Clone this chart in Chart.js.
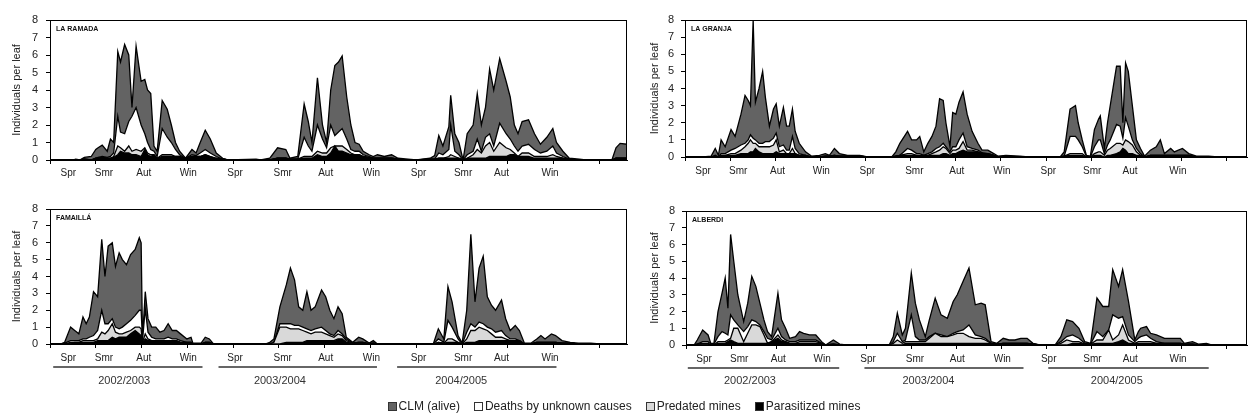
<!DOCTYPE html>
<html>
<head>
<meta charset="utf-8">
<script src="https://cdn.jsdelivr.net/npm/chart.js@4.4.1/dist/chart.umd.min.js"></script>
<style>
  html, body { margin: 0; padding: 0; background: #fff; }
  #wrap { position: relative; width: 1248px; height: 420px; overflow: hidden; font-family: "Liberation Sans", Arial, sans-serif; }
  #wrap canvas { position: absolute; }
  #legend { position: absolute; left: 0; top: 399px; width: 1248px; display: flex; justify-content: center; gap: 14px; font-size: 12px; color: #222; white-space: nowrap; }
  .item { display: flex; align-items: center; }
  .box { display: inline-block; width: 7px; height: 7px; border: 1px solid #333; margin-right: 2px; }
</style>
</head>
<body>
<div id="wrap">
  <canvas id="cRamada"   width="640" height="190" style="left:0;top:0"></canvas>
  <canvas id="cGranja"   width="608" height="190" style="left:640px;top:0"></canvas>
  <canvas id="cFamailla" width="640" height="230" style="left:0;top:190px"></canvas>
  <canvas id="cAlberdi"  width="608" height="230" style="left:640px;top:190px"></canvas>
  <div id="legend">
    <span class="item"><span class="box" style="background:#636363"></span>CLM (alive)</span>
    <span class="item"><span class="box" style="background:#fff"></span>Deaths by unknown causes</span>
    <span class="item"><span class="box" style="background:#d9d9d9"></span>Predated mines</span>
    <span class="item"><span class="box" style="background:#000"></span>Parasitized mines</span>
  </div>
</div>
<script>
// ---- axis labels (x in season units, tick every season) ----
const seasonLabels = ['Spr', 'Smr', 'Aut', 'Win', 'Spr', 'Smr', 'Aut', 'Win', 'Spr', 'Smr', 'Aut', 'Win'];
const seasonPos = [0.4, 1.18, 2.05, 3.02, 4.04, 5.08, 6.02, 7.02, 8.05, 9.02, 9.86, 10.92];
const yearLabels = ['2002/2003', '2003/2004', '2004/2005'];
const yearSpansLeft = [[0.07, 3.33], [3.68, 7.14], [7.58, 11.06]];
const yearTextLeft = [1.62, 5.02, 8.98];
const yearSpansRight = [[0.04, 3.4], [3.96, 7.49], [8.04, 11.6]];
const yearTextRight = [1.42, 5.38, 9.56];
const seriesNames = ['Parasitized mines', 'Predated mines', 'Deaths by unknown causes', 'CLM (alive)'];

// ---- LA RAMADA ----
const ramadaX = [0, 0.5, 0.56, 0.65, 0.75, 0.9, 1.0, 1.05, 1.14, 1.25,
  1.32, 1.39, 1.48, 1.54, 1.63, 1.72, 1.79, 1.88, 1.99, 2.07,
  2.13, 2.2, 2.27, 2.34, 2.45, 2.56, 2.65, 2.74, 2.83, 2.96,
  3.1, 3.19, 3.28, 3.39, 3.5, 3.63, 3.77, 3.9, 4.5, 4.6,
  4.8, 4.97, 5.15, 5.24, 5.41, 5.55, 5.64, 5.72, 5.84, 5.95,
  6.04, 6.13, 6.22, 6.3, 6.38, 6.48, 6.57, 6.66, 6.75, 6.84,
  6.97, 7.06, 7.15, 7.3, 7.46, 7.6, 7.82, 8.0, 8.3, 8.4,
  8.49, 8.58, 8.71, 8.75, 8.84, 8.93, 9.02, 9.11, 9.24, 9.33,
  9.42, 9.51, 9.6, 9.69, 9.82, 9.96, 10.05, 10.14, 10.22, 10.31,
  10.45, 10.58, 10.71, 10.85, 10.98, 11.06, 11.2, 11.34, 11.56, 11.7,
  12.27, 12.36, 12.45, 12.6];
const ramadaAlive = [0, 0, 0.05, 0, 0.1, 0.2, 0.5, 0.55, 0.65, 0.35,
  1.0, 0.6, 3.7, 4.0, 5.1, 3.8, 0.5, 3.5, 2.5, 3.1,
  3.0, 3.2, 0.3, 0.3, 1.6, 1.6, 1.0, 0.4, 0.2, 0,
  0.3, 0.15, 0.6, 1.1, 0.8, 0.2, 0.05, 0, 0.05, 0,
  0.1, 0.6, 0.5, 0.05, 0.15, 1.9, 1.4, 0.5, 2.7, 0.8,
  0.3, 2.0, 4.0, 4.0, 4.15, 2.4, 1.4, 0.5, 0.4, 0.2,
  0.1, 0.1, 0.2, 0.1, 0.2, 0.05, 0.05, 0, 0.05, 0.2,
  1.0, 0.5, 1.3, 1.7, 1.0, 0.7, 0, 1.2, 1.5, 2.6,
  1.5, 1.7, 3.7, 3.2, 3.7, 3.0, 2.4, 1.2, 1.0, 1.4,
  1.4, 0.9, 0.5, 0.8, 1.0, 0.6, 0.3, 0.05, 0.05, 0,
  0, 0.6, 0.85, 0.8];
const ramadaUnknown = [0, 0, 0, 0, 0, 0, 0, 0.05, 0.05, 0.05,
  0.1, 0.2, 1.7, 0.9, 1.0, 1.4, 2.0, 2.4, 1.5, 0.8,
  0.6, 0.3, 0.2, 0.1, 1.5, 1.0, 0.7, 0.4, 0.1, 0,
  0.1, 0.05, 0.2, 0.3, 0.2, 0.1, 0, 0, 0, 0,
  0, 0, 0, 0, 0, 1.1, 0.6, 0.3, 1.5, 0.8,
  0.3, 1.3, 0.6, 0.8, 1.0, 0.6, 0.2, 0.2, 0.2, 0.1,
  0.05, 0, 0, 0, 0, 0, 0, 0, 0, 0,
  0.3, 0.2, 0.4, 1.7, 0.3, 0.2, 0, 0.2, 0.2, 0.6,
  0.1, 0.5, 0.5, 0.3, 1.1, 0.8, 0.6, 0.4, 0.3, 0.4,
  0.5, 0.4, 0.2, 0.3, 0.5, 0.2, 0.1, 0, 0, 0,
  0, 0, 0, 0];
const ramadaPredated = [0, 0, 0, 0, 0, 0, 0, 0, 0, 0,
  0, 0.05, 0.5, 0.2, 0.1, 0.4, 0.2, 0.3, 0.3, 0.1,
  0.1, 0.1, 0, 0, 0.1, 0.1, 0.1, 0, 0, 0,
  0, 0, 0, 0, 0, 0, 0, 0, 0, 0,
  0, 0, 0, 0, 0, 0.1, 0.1, 0.1, 0.2, 0.2,
  0.2, 0.3, 0, 0.3, 0.3, 0.2, 0.1, 0, 0, 0,
  0, 0, 0, 0, 0, 0, 0, 0, 0, 0,
  0, 0, 0.1, 0.2, 0.1, 0, 0, 0, 0.2, 0.5,
  0.3, 0.7, 0.8, 0.3, 0.8, 0.5, 0.3, 0.1, 0, 0.2,
  0.2, 0.1, 0.1, 0.1, 0.2, 0.1, 0, 0, 0, 0,
  0, 0, 0, 0];
const ramadaParasit = [0, 0, 0, 0, 0.05, 0, 0.1, 0.1, 0.15, 0.1,
  0.1, 0.15, 0.3, 0.5, 0.4, 0.4, 0.3, 0.3, 0.2, 0.6,
  0.3, 0.2, 0.3, 0.1, 0.2, 0.2, 0.2, 0.2, 0.2, 0.1,
  0.2, 0.2, 0.2, 0.3, 0.2, 0.1, 0.05, 0, 0, 0,
  0, 0.1, 0.1, 0.05, 0.05, 0.1, 0.1, 0.1, 0.3, 0.2,
  0.2, 0.4, 0.8, 0.5, 0.5, 0.4, 0.3, 0.3, 0.3, 0.2,
  0.15, 0.1, 0.1, 0.1, 0.1, 0.05, 0, 0, 0.05, 0.05,
  0.1, 0.1, 0.1, 0.1, 0.1, 0.1, 0, 0.1, 0.1, 0.1,
  0.1, 0.1, 0.2, 0.2, 0.2, 0.2, 0.3, 0.3, 0.2, 0.2,
  0.2, 0.1, 0.1, 0.1, 0.1, 0.1, 0.1, 0.05, 0, 0,
  0, 0.1, 0.1, 0.1];

// ---- LA GRANJA ----
const granjaX = [0, 0.4, 0.58, 0.67, 0.74, 0.8, 0.89, 1.02, 1.11, 1.24,
  1.33, 1.4, 1.45, 1.51, 1.56, 1.64, 1.72, 1.78, 1.87, 1.96,
  2.02, 2.09, 2.18, 2.25, 2.31, 2.38, 2.44, 2.53, 2.67, 2.8,
  2.98, 3.11, 3.2, 3.31, 3.42, 3.6, 3.87, 4.04, 4.58, 4.67,
  4.76, 4.93, 5.02, 5.13, 5.2, 5.29, 5.38, 5.47, 5.56, 5.64,
  5.72, 5.78, 5.87, 5.93, 6.0, 6.07, 6.16, 6.25, 6.36, 6.49,
  6.58, 6.71, 6.84, 6.93, 7.11, 7.42, 7.6, 8.31, 8.4, 8.53,
  8.65, 8.71, 8.8, 8.89, 8.98, 9.07, 9.16, 9.2, 9.29, 9.36,
  9.42, 9.56, 9.64, 9.7, 9.76, 9.82, 9.91, 10.0, 10.09, 10.18,
  10.31, 10.44, 10.53, 10.62, 10.76, 10.84, 10.93, 11.02, 11.16, 11.33,
  11.6, 11.8, 12.45];
const granjaAlive = [0, 0, 0.05, 0.4, 0.1, 0.8, 0.4, 1.2, 0.7, 1.8,
  2.8, 2.3, 1.7, 6.9, 2.2, 3.2, 4.2, 2.6, 0.9, 1.7,
  1.7, 1.2, 2.2, 1.4, 1.4, 1.6, 1.0, 0.6, 0.2, 0.05,
  0.1, 0.15, 0.05, 0.4, 0.15, 0.05, 0.05, 0, 0, 0.25,
  0.7, 1.0, 0.6, 0.8, 1.0, 0.2, 0.6, 0.9, 1.3, 2.8,
  2.5, 1.4, 0.3, 2.0, 1.9, 2.2, 2.4, 1.9, 1.0, 0.4,
  0.15, 0.2, 0.1, 0.05, 0.1, 0.05, 0, 0, 0.25, 1.6,
  1.8, 1.0, 0.4, 0.05, 0.05, 1.0, 1.2, 1.4, 0.3, 1.3,
  2.0, 3.4, 3.5, 0.9, 3.2, 3.2, 2.0, 0.5, 0.3, 0.05,
  0.3, 0.5, 0.9, 0.1, 0.4, 0.2, 0.3, 0.4, 0.1, 0.05,
  0.05, 0, 0];
const granjaUnknown = [0, 0, 0, 0.05, 0, 0.1, 0.1, 0.2, 0.3, 0.3,
  0.2, 0.2, 0.3, 0.3, 0.2, 0.2, 0.2, 0.3, 0.3, 0.4,
  0.4, 0.3, 0.3, 0.2, 0.2, 0.7, 0.3, 0.1, 0, 0,
  0, 0, 0, 0, 0, 0, 0, 0, 0, 0,
  0, 0.3, 0.2, 0.1, 0.1, 0, 0.1, 0.1, 0.2, 0.2,
  0.2, 0.1, 0.1, 0.2, 0.2, 0.5, 0.5, 0.2, 0.1, 0.1,
  0.05, 0, 0, 0, 0, 0, 0, 0, 0, 1.0,
  1.0, 0.8, 0.4, 0.05, 0, 0.4, 0.7, 0.7, 0.1, 0.3,
  0.5, 1.1, 1.0, 0.4, 1.3, 0.9, 0.3, 0.2, 0.1, 0,
  0, 0, 0, 0, 0, 0, 0, 0, 0, 0,
  0, 0, 0];
const granjaPredated = [0, 0, 0, 0, 0, 0, 0, 0.1, 0.1, 0.2,
  0.4, 0.6, 0.7, 0.5, 0.3, 0.3, 0.4, 0.4, 0.4, 0.5,
  0.7, 0.1, 0.2, 0, 0, 0.3, 0, 0, 0, 0,
  0, 0, 0, 0, 0, 0, 0, 0, 0, 0,
  0, 0.1, 0.1, 0, 0, 0, 0, 0.1, 0.2, 0.3,
  0.4, 0.3, 0.1, 0.2, 0.2, 0.2, 0.5, 0.1, 0.1, 0,
  0, 0, 0, 0, 0, 0, 0, 0, 0, 0.1,
  0.1, 0.1, 0.1, 0, 0, 0.1, 0.2, 0.2, 0.1, 0.3,
  0.4, 0.6, 0.5, 0.2, 0.6, 0.7, 0.5, 0.2, 0, 0,
  0, 0, 0, 0, 0, 0, 0, 0, 0, 0,
  0, 0, 0];
const granjaParasit = [0, 0, 0, 0.05, 0, 0.1, 0.1, 0.1, 0.1, 0.2,
  0.2, 0.2, 0.3, 0.3, 0.5, 0.3, 0.2, 0.2, 0.2, 0.2,
  0.3, 0.2, 0.2, 0.2, 0.2, 0.2, 0.2, 0.1, 0.1, 0,
  0, 0.05, 0.05, 0.1, 0.05, 0.05, 0.05, 0, 0, 0.05,
  0.1, 0.1, 0.1, 0.1, 0.1, 0.1, 0.1, 0.1, 0.1, 0.1,
  0.2, 0.2, 0.1, 0.2, 0.2, 0.3, 0.4, 0.3, 0.3, 0.3,
  0.2, 0.2, 0.1, 0, 0, 0, 0, 0, 0.05, 0.1,
  0.1, 0.1, 0.1, 0, 0, 0.1, 0.1, 0.1, 0, 0.1,
  0.1, 0.2, 0.3, 0.5, 0.4, 0.2, 0.2, 0.1, 0.1, 0,
  0.1, 0.1, 0.1, 0.1, 0.1, 0.1, 0.1, 0.1, 0.1, 0,
  0, 0, 0];

// ---- FAMAILLÁ ----
const famaillaX = [0, 0.23, 0.32, 0.45, 0.54, 0.63, 0.72, 0.79, 0.86, 0.95,
  1.04, 1.13, 1.2, 1.27, 1.36, 1.43, 1.51, 1.58, 1.67, 1.76,
  1.86, 1.95, 1.99, 2.02, 2.08, 2.14, 2.22, 2.31, 2.4, 2.49,
  2.58, 2.67, 2.76, 2.85, 2.99, 3.08, 3.12, 3.3, 3.39, 3.48,
  3.57, 4.7, 4.8, 4.89, 5.02, 5.16, 5.25, 5.34, 5.43, 5.52,
  5.61, 5.7, 5.79, 5.93, 6.02, 6.11, 6.2, 6.29, 6.38, 6.47,
  6.61, 6.74, 6.83, 6.97, 7.06, 7.15, 8.37, 8.48, 8.6, 8.69,
  8.78, 8.91, 9.0, 9.1, 9.19, 9.28, 9.37, 9.46, 9.55, 9.64,
  9.73, 9.86, 9.95, 10.05, 10.16, 10.25, 10.36, 10.5, 10.63, 10.72,
  10.81, 10.95, 11.04, 11.18, 11.36, 11.54, 11.81, 12.0, 12.6];
const famaillaAlive = [0, 0, 0.05, 0.8, 0.6, 0.4, 1.3, 0.9, 1.2, 2.6,
  2.0, 4.2, 2.8, 4.6, 4.5, 3.6, 4.5, 4.0, 3.5, 3.9,
  3.9, 4.3, 4.0, 0.1, 1.0, 0.8, 0.6, 0.7, 0.4, 0.5,
  0.8, 0.5, 0.5, 0.4, 0.2, 0.3, 0.05, 0.05, 0.3, 0.2,
  0, 0, 0.1, 0.2, 1.0, 2.3, 3.3, 2.7, 1.1, 1.0,
  2.2, 1.2, 1.3, 2.2, 2.0, 1.4, 1.0, 1.4, 1.2, 0.1,
  0.05, 0.3, 0.2, 0.05, 0.15, 0, 0, 0.6, 0.2, 2.0,
  1.5, 0.2, 0.05, 1.3, 5.3, 1.5, 3.2, 4.0, 1.8, 1.4,
  1.3, 1.8, 1.0, 0.5, 0.8, 0.6, 0.05, 0.05, 0.2, 0.4,
  0.2, 0.5, 0.4, 0.15, 0.05, 0.05, 0.05, 0, 0];
const famaillaUnknown = [0, 0, 0.05, 0.1, 0.1, 0.1, 0.1, 0.1, 0.2, 0.3,
  0.5, 1.3, 0.6, 0.4, 0.3, 0.3, 0.3, 0.4, 0.5, 0.6,
  0.7, 1.0, 1.1, 0.1, 1.5, 0.4, 0.2, 0.1, 0.1, 0.1,
  0.2, 0.1, 0.1, 0.1, 0, 0, 0, 0, 0, 0,
  0, 0, 0, 0, 0.2, 0.2, 0.3, 0.2, 0.2, 0.2,
  0.2, 0.2, 0.2, 0.3, 0.2, 0.1, 0.1, 0.2, 0.1, 0.1,
  0, 0, 0, 0, 0, 0, 0, 0.2, 0.05, 1.1,
  0.7, 0.2, 0, 0.4, 0.4, 0.2, 0.3, 0.3, 0.2, 0.3,
  0.3, 0.4, 0.2, 0.1, 0.1, 0, 0, 0, 0, 0,
  0, 0, 0, 0, 0, 0, 0, 0, 0];
const famaillaPredated = [0, 0, 0, 0.05, 0, 0, 0.1, 0.1, 0.1, 0.1,
  0.1, 0.5, 0.4, 0.6, 0.8, 0.4, 0.2, 0.2, 0.3, 0.2,
  0.2, 0.4, 0.4, 0, 0.3, 0.1, 0, 0, 0, 0,
  0, 0, 0, 0, 0, 0, 0, 0, 0, 0,
  0, 0, 0, 0.1, 1.0, 0.9, 0.8, 0.8, 0.8, 0.7,
  0.5, 0.4, 0.5, 0.5, 0.4, 0.3, 0.2, 0.3, 0.2, 0.1,
  0, 0, 0, 0, 0, 0, 0, 0, 0, 0.2,
  0.2, 0, 0, 0.2, 0.7, 0.7, 0.8, 0.7, 0.6, 0.4,
  0.2, 0.2, 0.1, 0, 0, 0, 0, 0, 0, 0,
  0, 0, 0, 0, 0, 0, 0, 0, 0];
const famaillaParasit = [0, 0, 0, 0.05, 0.1, 0.1, 0.1, 0.1, 0.1, 0.1,
  0.2, 0.2, 0.2, 0.2, 0.4, 0.3, 0.4, 0.4, 0.4, 0.6,
  0.8, 0.6, 0.5, 0.1, 0.3, 0.2, 0.2, 0.2, 0.2, 0.2,
  0.2, 0.2, 0.2, 0.1, 0.1, 0.1, 0, 0, 0.1, 0.1,
  0, 0, 0, 0, 0, 0.1, 0.1, 0.1, 0.1, 0.1,
  0.2, 0.2, 0.2, 0.2, 0.2, 0.2, 0.2, 0.3, 0.3, 0.1,
  0.05, 0.1, 0.1, 0, 0.05, 0, 0, 0.1, 0.05, 0.1,
  0.1, 0.1, 0, 0.1, 0.1, 0.1, 0.2, 0.2, 0.2, 0.2,
  0.2, 0.2, 0.2, 0.2, 0.2, 0.2, 0, 0, 0.1, 0.1,
  0.1, 0.1, 0.1, 0.05, 0.05, 0, 0, 0, 0];

// ---- ALBERDI ----
const alberdiX = [0, 0.18, 0.25, 0.37, 0.49, 0.55, 0.62, 0.71, 0.8, 0.87,
  0.93, 0.99, 1.06, 1.15, 1.28, 1.37, 1.46, 1.55, 1.64, 1.73,
  1.81, 1.9, 2.04, 2.12, 2.21, 2.3, 2.43, 2.52, 2.61, 2.74,
  2.88, 3.01, 3.1, 3.27, 3.41, 3.55, 4.51, 4.6, 4.69, 4.8,
  4.87, 5.0, 5.09, 5.18, 5.31, 5.4, 5.53, 5.66, 5.8, 5.93,
  6.02, 6.15, 6.28, 6.42, 6.55, 6.64, 6.77, 6.9, 7.04, 7.17,
  7.3, 7.43, 7.57, 7.7, 7.85, 8.19, 8.32, 8.45, 8.58, 8.72,
  8.85, 8.98, 9.12, 9.25, 9.38, 9.47, 9.6, 9.69, 9.82, 9.96,
  10.04, 10.09, 10.22, 10.31, 10.44, 10.62, 10.8, 10.97, 11.06, 11.24,
  11.37, 11.55, 11.68, 12.45];
const alberdiAlive = [0, 0, 0.25, 0.7, 0.4, 0.05, 0.05, 1.5, 2.3, 3.3,
  1.6, 4.8, 3.5, 1.8, 0.6, 1.4, 2.6, 2.1, 1.3, 0.7,
  0.4, 0.2, 2.1, 1.0, 0.7, 0.2, 0.3, 0.5, 0.4, 0.3,
  0.3, 0.1, 0, 0.25, 0.05, 0, 0, 0.3, 1.2, 0.4,
  0.7, 2.5, 2.0, 1.2, 0.2, 1.0, 2.1, 1.2, 1.1, 1.9,
  2.2, 2.9, 3.4, 1.8, 2.0, 2.0, 0.1, 0.05, 0.3, 0.2,
  0.2, 0.3, 0.3, 0.05, 0, 0, 0.3, 1.0, 0.8, 0.6,
  0.1, 0.05, 2.0, 1.8, 1.4, 2.7, 1.9, 2.8, 2.0, 0.1,
  0.4, 0.5, 0.5, 0.3, 0.4, 0.3, 0.3, 0.3, 0.05, 0.15,
  0.05, 0.1, 0, 0];
const alberdiUnknown = [0, 0, 0, 0.1, 0.1, 0.05, 0.05, 0.3, 0.6, 0.5,
  0.3, 1.4, 0.5, 0.2, 0.6, 0.4, 0.3, 0.2, 0.1, 0.2,
  0.3, 0.1, 0.4, 0.2, 0.1, 0.1, 0.1, 0.1, 0.1, 0.1,
  0.1, 0, 0, 0, 0, 0, 0, 0.1, 0.4, 0.1,
  0.1, 1.6, 0.3, 0.1, 0.1, 0.1, 0, 0.1, 0, 0.1,
  0.1, 0.2, 0.7, 0.2, 0.1, 0.1, 0, 0, 0, 0,
  0, 0, 0, 0, 0, 0, 0.1, 0.2, 0.4, 0.2,
  0.05, 0, 0.5, 0.2, 0, 1.5, 1.0, 0.5, 0.3, 0.1,
  0.2, 0.3, 0.4, 0.2, 0.1, 0, 0, 0, 0, 0,
  0, 0, 0, 0];
const alberdiPredated = [0, 0, 0, 0.05, 0.05, 0, 0, 0.1, 0.1, 0.1,
  0.1, 0.1, 0.8, 0.9, 0.1, 0.6, 1.1, 1.1, 1.0, 0.5,
  0, 0, 0.2, 0.1, 0, 0, 0, 0.1, 0.1, 0.1,
  0.1, 0, 0, 0, 0, 0, 0, 0.1, 0.3, 0.1,
  0.1, 0.1, 0.1, 0.1, 0.1, 0.3, 0.6, 0.4, 0.4, 0.5,
  0.6, 0.6, 0.4, 0.3, 0.3, 0.2, 0, 0, 0, 0,
  0, 0, 0, 0, 0, 0, 0.1, 0.3, 0.1, 0.1,
  0, 0, 0.2, 0.2, 0.8, 0.2, 0.4, 0.9, 0.2, 0,
  0.1, 0.1, 0.1, 0.1, 0, 0, 0, 0, 0, 0,
  0, 0, 0, 0];
const alberdiParasit = [0, 0, 0.05, 0.05, 0.05, 0, 0, 0.1, 0.1, 0.1,
  0.2, 0.3, 0.2, 0.1, 0.1, 0.1, 0.1, 0.1, 0.1, 0.1,
  0.1, 0.2, 0.4, 0.2, 0.2, 0.1, 0.1, 0.1, 0.1, 0.1,
  0.1, 0.1, 0, 0.05, 0, 0, 0, 0, 0, 0,
  0.1, 0.1, 0.1, 0.1, 0.1, 0.1, 0.1, 0.1, 0.1, 0.1,
  0.1, 0.1, 0.1, 0.1, 0.1, 0.1, 0.1, 0.05, 0.1, 0.1,
  0.1, 0.1, 0.1, 0.05, 0, 0, 0, 0, 0.1, 0.1,
  0.05, 0.05, 0.1, 0.1, 0.1, 0.1, 0.2, 0.3, 0.1, 0.1,
  0.1, 0.1, 0.1, 0.1, 0.1, 0.1, 0.1, 0.1, 0.05, 0.05,
  0, 0, 0, 0];

// ============= HELPERS =============
Chart.defaults.font.family = '"Liberation Sans", Arial, sans-serif';
Chart.defaults.color = '#222';

const fillColors = ['#000000', '#d9d9d9', '#ffffff', '#636363'];

function buildSets(xs, stack) {
  return stack.map(function(values, k) {
    if (values.length !== xs.length) {
      throw new Error('length mismatch in ' + seriesNames[k] + ': ' + values.length + ' vs ' + xs.length);
    }
    return {
      label: seriesNames[k],
      data: xs.map(function(x, i) { return { x: x, y: values[i] }; }),
      backgroundColor: fillColors[k],
      borderColor: '#000',
      borderWidth: 1.3,
      fill: k === 0 ? 'origin' : '-1',
      pointRadius: 0,
      tension: 0
    };
  });
}

// frame, panel name and year bars
const panelDecor = {
  id: 'panelDecor',
  afterDatasetsDraw: function(chart, args, opts) {
    const ctx = chart.ctx;
    const a = chart.chartArea;
    ctx.save();
    ctx.strokeStyle = '#000';
    ctx.lineWidth = 1;
    ctx.strokeRect(Math.round(a.left) + 0.5, Math.round(a.top) + 0.5,
      Math.round(a.right - a.left) - 1, Math.round(a.bottom - a.top));
    ctx.fillStyle = '#111';
    ctx.font = 'bold 7px "Liberation Sans", Arial, sans-serif';
    ctx.textBaseline = 'middle';
    ctx.fillText(opts.name, a.left + 6, a.top + 9);

    if (opts.spans) {
      const xs = chart.scales.x;
      ctx.strokeStyle = '#333';
      ctx.lineWidth = 1.5;
      ctx.fillStyle = '#333';
      ctx.font = '11px "Liberation Sans", Arial, sans-serif';
      ctx.textAlign = 'center';
      opts.spans.forEach(function(s, i) {
        ctx.beginPath();
        ctx.moveTo(xs.getPixelForValue(s[0]), opts.lineY);
        ctx.lineTo(xs.getPixelForValue(s[1]), opts.lineY);
        ctx.stroke();
        ctx.fillText(yearLabels[i], xs.getPixelForValue(opts.textAt[i]), opts.textY);
      });
    }
    ctx.restore();
  }
};

function makePanel(p) {
  const integerTicks = [];
  for (let t = 0; t <= Math.floor(p.xMax); t++) integerTicks.push({ value: t });

  new Chart(document.getElementById(p.id), {
    type: 'line',
    data: { datasets: buildSets(p.xs, p.stack) },
    plugins: [panelDecor],
    options: {
      responsive: false,
      animation: false,
      events: [],
      layout: { padding: p.pad },
      plugins: {
        legend: { display: false },
        tooltip: { enabled: false },
        panelDecor: { name: p.name, spans: p.spans, textAt: p.textAt, lineY: p.lineY, textY: p.textY }
      },
      scales: {
        x: {
          type: 'linear',
          min: 0,
          max: p.xMax,
          afterBuildTicks: function(s) { s.ticks = integerTicks.slice(); },
          afterFit: function(s) { s.height = 5; },
          ticks: { display: false },
          grid: { drawOnChartArea: false, drawTicks: true, tickLength: 4, color: '#000' },
          border: { color: '#000', width: 1 }
        },
        x2: {
          type: 'linear',
          position: 'bottom',
          min: 0,
          max: p.xMax,
          afterBuildTicks: function(s) { s.ticks = seasonPos.map(function(v) { return { value: v }; }); },
          afterFit: function(s) { s.height = p.x2H; },
          ticks: {
            autoSkip: false,
            maxRotation: 0,
            padding: p.x2Pad,
            font: { size: 10 },
            color: '#222',
            callback: function(v, i) { return seasonLabels[i]; }
          },
          grid: { display: false, drawTicks: false },
          border: { display: false }
        },
        y: {
          stacked: true,
          min: 0,
          max: 8,
          afterFit: function(s) { s.width = p.yW; },
          ticks: { stepSize: 1, padding: p.tickPad, font: { size: 11 }, color: '#222' },
          grid: { drawOnChartArea: false, drawTicks: true, tickLength: 4, color: '#000' },
          border: { color: '#000', width: 1 },
          title: {
            display: true,
            text: 'Individuals per leaf',
            font: { size: 11 },
            color: '#222',
            padding: { top: p.titlePad, bottom: 0 }
          }
        }
      }
    }
  });
}

// ============= PANELS =============
makePanel({
  id: 'cRamada', name: 'LA RAMADA', xs: ramadaX,
  stack: [ramadaParasit, ramadaPredated, ramadaUnknown, ramadaAlive],
  xMax: 12.6, yW: 50, tickPad: 8, titlePad: 10, x2H: 25, x2Pad: 2,
  pad: { top: 20, right: 13, bottom: 0, left: 0 }
});
makePanel({
  id: 'cGranja', name: 'LA GRANJA', xs: granjaX,
  stack: [granjaParasit, granjaPredated, granjaUnknown, granjaAlive],
  xMax: 12.45, yW: 45, tickPad: 7, titlePad: 8, x2H: 28, x2Pad: 3,
  pad: { top: 20, right: 1, bottom: 0, left: 0 }
});
makePanel({
  id: 'cFamailla', name: 'FAMAILLÁ', xs: famaillaX,
  stack: [famaillaParasit, famaillaPredated, famaillaUnknown, famaillaAlive],
  xMax: 12.6, yW: 50, tickPad: 8, titlePad: 10, x2H: 20, x2Pad: 3,
  pad: { top: 19, right: 13, bottom: 51, left: 0 },
  spans: yearSpansLeft, textAt: yearTextLeft, lineY: 177, textY: 191
});
makePanel({
  id: 'cAlberdi', name: 'ALBERDI', xs: alberdiX,
  stack: [alberdiParasit, alberdiPredated, alberdiUnknown, alberdiAlive],
  xMax: 12.45, yW: 46, tickPad: 7, titlePad: 8, x2H: 20, x2Pad: 3,
  pad: { top: 21, right: 1, bottom: 50, left: 0 },
  spans: yearSpansRight, textAt: yearTextRight, lineY: 178, textY: 191
});
</script>
</body>
</html>
